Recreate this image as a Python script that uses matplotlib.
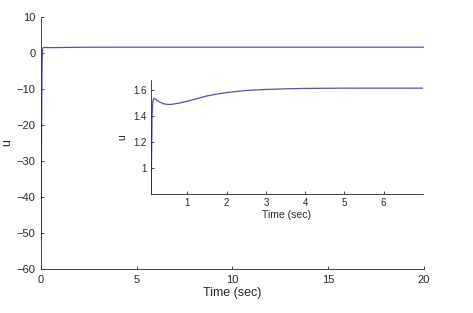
import matplotlib
matplotlib.use("Agg")
import matplotlib.pyplot as plt
import numpy as np

plt.rcParams['font.family'] = ['Liberation Sans', 'DejaVu Sans']

# control signal u
time = [0, 0.02, 0.04, 0.06, 0.08, 0.1, 0.12, 0.15, 0.2, 0.3, 0.4, 0.5, 0.6,
        0.8, 1.0, 1.25, 1.5, 1.75, 2.0, 2.5, 3.0, 3.5, 4.0, 5.0, 6.0, 7.0,
        10.0, 15.0, 20.0]
u = [-52, -30, -12, -2, 0.9, 1.4, 1.52, 1.54, 1.53, 1.51, 1.497, 1.492, 1.493,
     1.503, 1.517, 1.538, 1.558, 1.572, 1.584, 1.600, 1.608, 1.613, 1.616,
     1.618, 1.618, 1.618, 1.618, 1.618, 1.618]

main_xticks = [0, 5, 10, 15, 20]
main_yticks = [-60, -50, -40, -30, -20, -10, 0, 10]
inset_xticks = [1, 2, 3, 4, 5, 6]
inset_yticks = [1, 1.2, 1.4, 1.6]

linecol = '#5252ac'
axcol = '#262626'

def style(ax, fs, pad):
    ax.spines['top'].set_visible(False)
    ax.spines['right'].set_visible(False)
    for s in ['left', 'bottom']:
        ax.spines[s].set_color(axcol)
        ax.spines[s].set_linewidth(0.6)
    ax.tick_params(direction='in', length=2.5, width=0.6, colors=axcol,
                   labelsize=fs, pad=pad)

fig = plt.figure(figsize=(4.73, 3.13), dpi=100)
ax = fig.add_axes([0.0867, 0.1406, 0.8093, 0.8051])
ax.plot(time, u, color=linecol, lw=0.9)
ax.set_xlim(0, 20)
ax.set_ylim(-60, 10)
ax.set_xticks(main_xticks)
ax.set_yticks(main_yticks)
style(ax, 8, 4)
ax.set_xlabel('Time (sec)', fontsize=9, color=axcol, labelpad=2)
ax.set_ylabel('u', fontsize=9, color=axcol)
ax.yaxis.set_label_coords(-0.073, 0.5)

ins = fig.add_axes([0.319, 0.380, 0.575, 0.364])
ins.plot(time, u, color=linecol, lw=0.9)
ins.set_xlim(0.07, 7)
ins.set_ylim(0.8, 1.68)
ins.set_xticks(inset_xticks)
ins.set_yticks(inset_yticks)
ins.set_yticklabels(['1', '1.2', '1.4', '1.6'])
style(ins, 7, 3)
ins.set_xlabel('Time (sec)', fontsize=7.5, color=axcol, labelpad=1)
ins.set_ylabel('u', fontsize=7.5, color=axcol)
ins.yaxis.set_label_coords(-0.088, 0.5)

fig.savefig('out.png', dpi=100)
